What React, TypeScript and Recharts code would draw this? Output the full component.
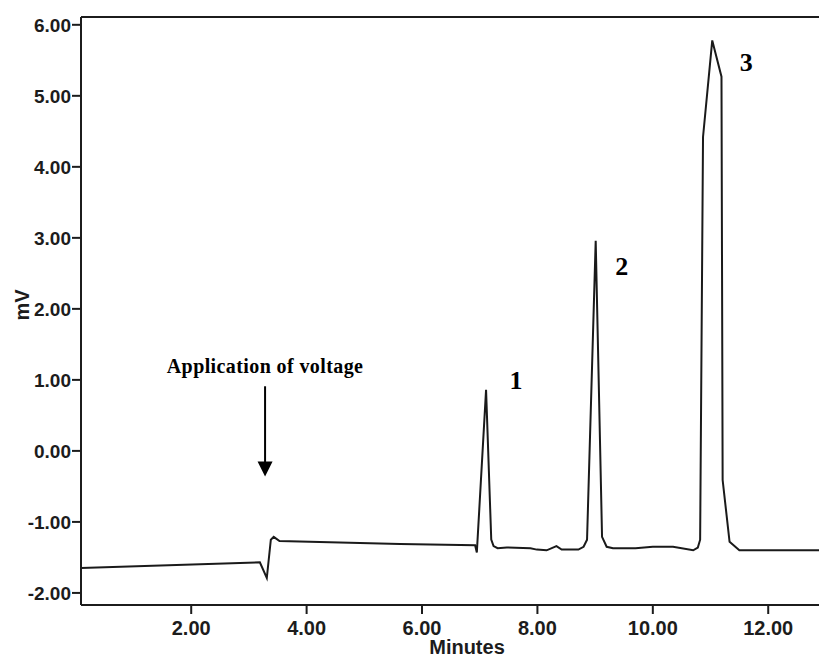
import { LineChart, Line, XAxis, YAxis, ReferenceLine, ReferenceDot } from 'recharts';

// electropherogram trace (minutes vs mV)
const minutes = [
  0.09, 3.19, 3.31, 3.38, 3.43, 3.53, 5.62, 6.92, 6.95, 7.11, 7.2, 7.24, 7.31, 7.47, 7.88, 7.99,
  8.16, 8.33, 8.42, 8.71, 8.8, 8.86, 9.01, 9.12, 9.2, 9.31, 9.7, 10.0, 10.35, 10.7, 10.78, 10.82,
  10.87, 11.03, 11.19, 11.21, 11.33, 11.5, 12.88,
];
const signal = [
  -1.65, -1.57, -1.79, -1.25, -1.21, -1.27, -1.31, -1.33, -1.43, 0.86, -1.25, -1.34, -1.37, -1.36,
  -1.37, -1.39, -1.4, -1.34, -1.39, -1.39, -1.35, -1.25, 2.96, -1.21, -1.35, -1.37, -1.37, -1.35,
  -1.35, -1.4, -1.36, -1.25, 4.42, 5.78, 5.27, -0.41, -1.28, -1.4, -1.4,
];

const xTicks = [2, 4, 6, 8, 10, 12];
const yTicks = [-2, -1, 0, 1, 2, 3, 4, 5, 6];
const X_DOMAIN: [number, number] = [0.09, 12.88];
const Y_DOMAIN: [number, number] = [-2.17, 6.11];

// peak numbers placed beside each peak
const peakLabels = [
  { t: 7.63, v: 0.99, text: '1' },
  { t: 9.46, v: 2.6, text: '2' },
  { t: 11.62, v: 5.47, text: '3' },
];

const voltageAt = 3.28;

const rows = minutes.map((t, i) => ({ t, mv: signal[i] }));

const AXIS = '#1c1c1c';
const tickFont = { fontFamily: 'Liberation Sans, Arial, sans-serif', fontWeight: 700, fill: '#1c1c1c' };
const serif = 'Liberation Serif, Times New Roman, serif';

export default function App() {
  return (
    <div style={{ position: 'absolute', left: 0, top: 0, width: 819, height: 657, background: '#fff' }}>
      <LineChart width={819} height={657} data={rows} margin={{ top: 17, right: 0, bottom: 0, left: 0 }}>
        <XAxis
          dataKey="t"
          type="number"
          domain={X_DOMAIN}
          ticks={xTicks}
          allowDataOverflow
          height={52}
          tickFormatter={(v: number) => v.toFixed(2)}
          tick={{ ...tickFont, fontSize: 20 }}
          tickSize={9}
          tickMargin={7}
          axisLine={{ stroke: AXIS, strokeWidth: 2 }}
          tickLine={{ stroke: AXIS, strokeWidth: 2 }}
        />
        <YAxis
          type="number"
          domain={Y_DOMAIN}
          ticks={yTicks}
          allowDataOverflow
          width={81}
          tickFormatter={(v: number) => v.toFixed(2)}
          tick={{ ...tickFont, fontSize: 19 }}
          tickSize={9}
          tickMargin={1}
          axisLine={{ stroke: AXIS, strokeWidth: 2 }}
          tickLine={{ stroke: AXIS, strokeWidth: 2 }}
        />
        {/* top frame */}
        <ReferenceLine y={Y_DOMAIN[1]} stroke={AXIS} strokeWidth={2} />
        <Line
          type="linear"
          dataKey="mv"
          stroke="#1a1a1a"
          strokeWidth={2}
          dot={false}
          isAnimationActive={false}
        />
        {/* voltage annotation */}
        <ReferenceDot
          x={voltageAt}
          y={1.2}
          r={0}
          shape={(p: any) => (
            <text
              x={p.cx}
              y={p.cy}
              textAnchor="middle"
              dominantBaseline="central"
              fontFamily={serif}
              fontWeight={700}
              fontSize={20}
              letterSpacing={0.4}
              fill="#000"
            >
              Application of voltage
            </text>
          )}
        />
        <ReferenceLine
          segment={[
            { x: voltageAt, y: 0.91 },
            { x: voltageAt, y: -0.2 },
          ]}
          stroke="#000"
          strokeWidth={2}
        />
        <ReferenceDot
          x={voltageAt}
          y={-0.36}
          r={0}
          shape={(p: any) => (
            <polygon
              points={`${p.cx - 7.5},${p.cy - 15} ${p.cx + 7.5},${p.cy - 15} ${p.cx},${p.cy}`}
              fill="#000"
            />
          )}
        />
        {peakLabels.map((pk) => (
          <ReferenceDot
            key={pk.text}
            x={pk.t}
            y={pk.v}
            r={0}
            shape={(p: any) => (
              <text
                x={p.cx}
                y={p.cy}
                textAnchor="middle"
                dominantBaseline="central"
                fontFamily={serif}
                fontWeight={700}
                fontSize={26}
                fill="#000"
              >
                {pk.text}
              </text>
            )}
          />
        ))}
      </LineChart>
      <div
        style={{
          position: 'absolute',
          left: 467,
          top: 637,
          transform: 'translateX(-50%)',
          font: '700 20px "Liberation Sans", Arial, sans-serif',
          color: '#1c1c1c',
          lineHeight: '20px',
          whiteSpace: 'nowrap',
        }}
      >
        Minutes
      </div>
      <div
        style={{
          position: 'absolute',
          left: 22,
          top: 305,
          transform: 'translate(-50%, -50%) rotate(-90deg)',
          font: '700 20px "Liberation Sans", Arial, sans-serif',
          color: '#1c1c1c',
          lineHeight: '20px',
          whiteSpace: 'nowrap',
        }}
      >
        mV
      </div>
    </div>
  );
}
